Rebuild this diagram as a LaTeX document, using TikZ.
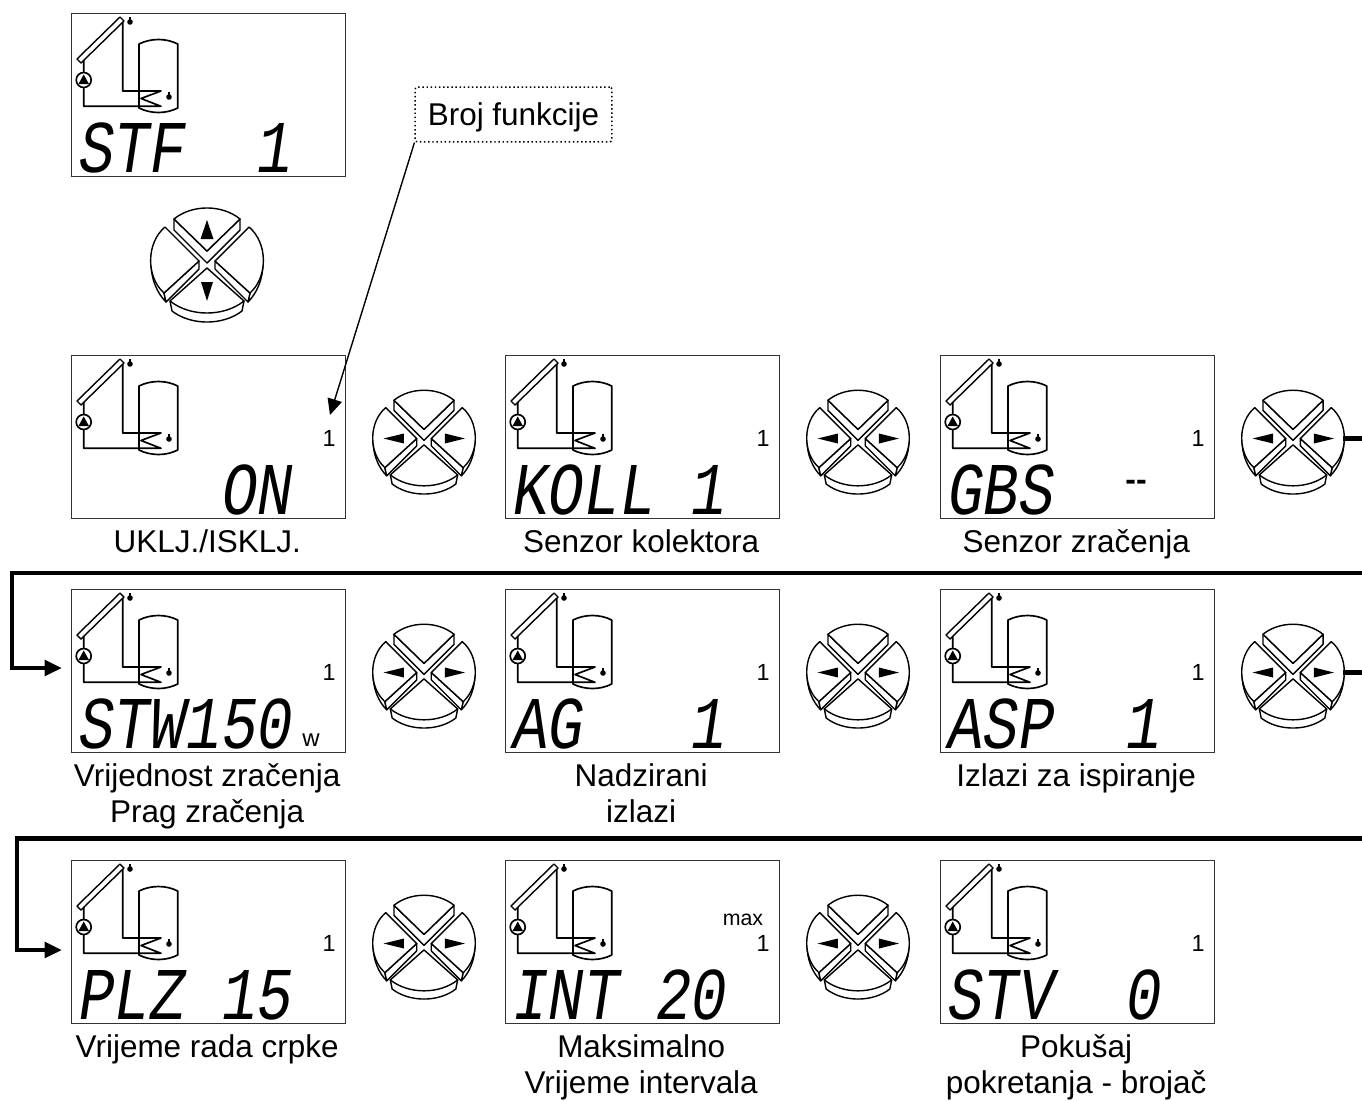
\documentclass[tikz,border=0pt]{standalone}
\usepackage{fontspec}
\setmainfont{Liberation Sans}
\newfontfamily\lcdfont[FakeSlant=0.15,FakeStretch=0.8]{Liberation Mono}
\usetikzlibrary{positioning,arrows.meta}

\tikzset{
    pipe/.style={line width=1.25pt, line join=round},
    keyline/.style={line width=1.05pt, line join=round, fill=white},
    lcdicon/.pic={
        % collector, pump, tank with coil, two sensors
        \draw[pipe] (51.7,8) -- (51.7,78) -- (90,78) -- (70,85.5) -- (90,93.3) -- (12.7,93.3) -- (12.7,46);
        \draw[keyline] (6,46) -- (10,50) -- (53,8) -- (49,4) -- cycle;
        \draw[keyline, line width=1.25pt] (12.7,67) circle (7.5);
        \fill (7.5,71) -- (18,71) -- (12.7,61.5) -- cycle;
        \draw[pipe] (68,31) .. controls (80,25) and (95,25) .. (106.7,31) -- (106.7,95)
            .. controls (95,101) and (80,101) .. (68,95) -- cycle;
        \fill (59,9) circle (2.8); \draw[line width=0.8pt] (59,9) -- (59,4);
        \fill (98,84) circle (2.8); \draw[line width=0.8pt] (98,84) -- (98,79);
    },
    padface/.pic={
        \draw[keyline] (-56,2) .. controls (-56,18) and (-50,32) .. (-41,41) -- (-43,32) -- cycle;
        \draw[keyline] (56,2) .. controls (56,18) and (50,32) .. (41,41) -- (43,32) -- cycle;
        \draw[keyline] (-37,40) -- (-35,50) .. controls (-16,64.7) and (16,64.7) .. (35,50) -- (37,40) -- cycle;
        \draw[keyline] (0,7) -- (-37,40) .. controls (-17,56) and (17,56) .. (37,40) -- cycle;
        \draw[keyline] (-8,0) -- (-8,8) -- (-41,41) -- (-43,32) -- cycle;
        \draw[keyline] (8,0) -- (8,8) -- (41,41) -- (43,32) -- cycle;
        \draw[keyline] (-42,-34) -- (-8,0) -- (-43,32) .. controls (-61,16) and (-61,-18) .. cycle;
        \draw[keyline] (42,-34) -- (8,0) -- (43,32) .. controls (61,16) and (61,-18) .. cycle;
        \draw[keyline] (-33,-42) -- (-33,-31) -- (0,2) -- (33,-31) -- (33,-42) -- (0,-10) -- cycle;
        \draw[keyline] (-33,-42) .. controls (-15,-56.7) and (15,-56.7) .. (33,-42) -- (0,-10) -- cycle;
    },
    padud/.pic={
        \fill (-6.5,-22) -- (6.5,-22) -- (0,-41) -- cycle;
        \fill (-6,21) -- (6,21) -- (0,40) -- cycle;
    },
    padlr/.pic={
        \fill (-22,-5.5) -- (-22,5.5) -- (-44.5,0) -- cycle;
        \fill (23,-5.5) -- (23,5.5) -- (45,0) -- cycle;
    },
}

% name, x, y, display text
\newcommand{\lcdscreen}[4]{
    \node[lcdbox] (#1) at (#2,#3) {};
    \pic at (#1.north west) {lcdicon};
    \node[lcdtext] (#1txt) at ([shift={(5,159)}]#1.north west) {#4};
}
% screen with the small function number
\newcommand{\lcdnum}[4]{
    \lcdscreen{#1}{#2}{#3}{#4}
    \node[lcdnumber] (#1num) at ([shift={(258,83)}]#1.north west) {1};
}

\begin{document}
\begin{tikzpicture}[
    x=0.75pt, y=-0.75pt,
    lcdbox/.style={draw=black!80, line width=0.8pt, anchor=north west, minimum width=205.5pt, minimum height=122.25pt, inner sep=0pt},
    lcdtext/.style={anchor=base west, inner sep=0pt, font=\lcdfont\fontsize{55.8pt}{56pt}\selectfont},
    lcdnumber/.style={inner sep=0pt, font=\fontsize{17.5pt}{18pt}\selectfont},
    lcdsmall/.style={inner sep=0pt, font=\fontsize{18pt}{18pt}\selectfont},
    caption/.style={below=8pt of #1, xshift=-1pt, inner sep=0pt, align=center, font=\fontsize{23.6pt}{27pt}\selectfont},
    padhub/.style={circle, minimum size=74pt, inner sep=0pt},
    flow/.style={line width=3.4pt, -{Triangle[length=13pt,width=11.5pt]}},
    callout/.style={line width=1.05pt, -{Triangle[length=12pt,width=11pt]}}
]
    \clip (0,0) rectangle (1362,1100);

    \lcdscreen{stf}{71}{13}{STF~~1}
    \node[padhub] (kup) at (207,261) {};
    \pic at (kup) {padface};
    \pic at (kup) {padud};

    \lcdnum{on}{71}{355}{~~~~ON}
    \lcdnum{koll}{505}{355}{KOLL~1}
    \lcdnum{gbs}{940}{355}{GBS}
    \node[lcdsmall, font=\bfseries\fontsize{24pt}{24pt}\selectfont] (gbsval) at ([shift={(196,130)}]gbs.north west) {-{}-};

    \lcdnum{stw}{71}{589}{STW150}
    \lcdnum{ag}{505}{589}{AG~~~1}
    \lcdnum{asp}{940}{589}{ASP~~1}
    \node[lcdsmall] (stwunit) at ([shift={(240,151)}]stw.north west) {w};

    \lcdnum{plz}{71}{860}{PLZ~15}
    \lcdnum{int}{505}{860}{INT~20}
    \lcdnum{stv}{940}{860}{STV~~0}
    \node[lcdsmall, font=\fontsize{16pt}{16pt}\selectfont] (intmax) at ([shift={(238,60)}]int.north west) {max};

    \foreach \nm/\lft in {ka/on, kb/koll, kc/gbs, kd/stw, ke/ag, kf/asp, kg/plz, kh/int} {
        \node[padhub] (\nm) at ([shift={(353,83.5)}]\lft.north west) {};
        \pic[scale=0.91] at (\nm) {padface};
        \pic[scale=0.91] at (\nm) {padlr};
    }

    \node[caption=on] (lbon) {UKLJ./ISKLJ.};
    \node[caption=koll] (lbkoll) {Senzor kolektora};
    \node[caption=gbs] (lbgbs) {Senzor zračenja};
    \node[caption=stw] (lbstw) {Vrijednost zračenja\\Prag zračenja};
    \node[caption=ag] (lbag) {Nadzirani\\izlazi};
    \node[caption=asp] (lbasp) {Izlazi za ispiranje};
    \node[caption=plz] (lbplz) {Vrijeme rada crpke};
    \node[caption=int] (lbint) {Maksimalno\\Vrijeme intervala};
    \node[caption=stv] (lbstv) {Pokušaj\\pokretanja - brojač};

    \node[draw, dotted, rounded corners=1.5pt, line width=1.1pt, minimum width=147.5pt, minimum height=41pt, inner sep=0pt,
        text depth=0pt, font=\fontsize{23.6pt}{27pt}\selectfont] (broj) at (513.5,114.5) {Broj funkcije};
    \coordinate (brojtip) at (330,415);
    \draw[callout] (broj.south west) -- (brojtip);

    % the links leave the frame on the right
    \coordinate (rowa) at (1400,573);
    \coordinate (rowb) at (1400,838.5);
    \coordinate (entb) at (12,668);
    \coordinate (entc) at (17,950);
    \draw[flow] (kc.east) -- (kc.east -| rowa) -- (rowa) -- (12,573) -- (entb) -- ++(50,0);
    \draw[flow] (kf.east) -- (kf.east -| rowb) -- (rowb) -- (17,838.5) -- (entc) -- ++(45,0);
\end{tikzpicture}
\end{document}
